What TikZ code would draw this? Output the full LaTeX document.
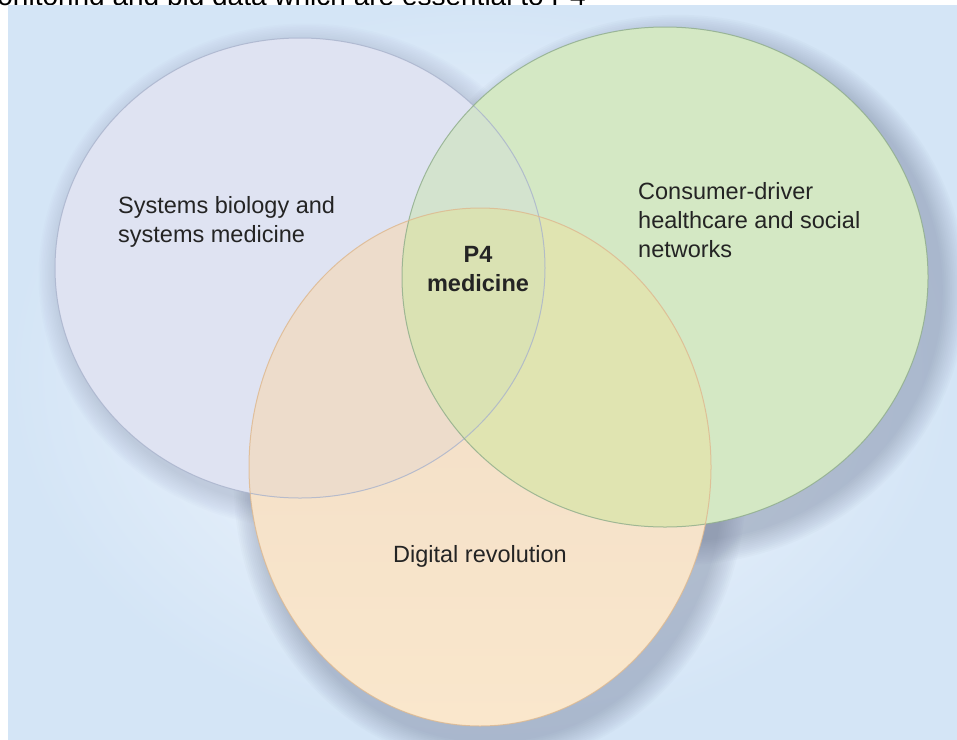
\documentclass[tikz,border=0pt]{standalone}
\usepackage{fontspec}
\setmainfont{Liberation Sans}
\usetikzlibrary{shapes.geometric}

\definecolor{panelout}{HTML}{D4E5F6}
\definecolor{panelin}{HTML}{F7F9FE}
\definecolor{shadowcol}{HTML}{6E7894}
\definecolor{bluefill}{HTML}{DFE3F2}
\definecolor{greenfill}{HTML}{D4E8C4}
\definecolor{orangetop}{HTML}{F0DCC6}
\definecolor{orangebot}{HTML}{FAE7CC}
\definecolor{bluegreen}{HTML}{D3E3CE}
\definecolor{blueorange}{HTML}{EDDCCB}
\definecolor{greenorange}{HTML}{E0E4B1}
\definecolor{allthree}{HTML}{DAE2B3}
\definecolor{blueedge}{HTML}{A9B3CC}
\definecolor{greenedge}{HTML}{8EAC8A}
\definecolor{orangeedge}{HTML}{DDB88F}
\definecolor{labeltext}{HTML}{242424}

% the three sets, as paths
\newcommand\sysbio{(300,268) ellipse [x radius=245, y radius=230]}
\newcommand\consumer{(665,277) ellipse [x radius=263, y radius=250]}
\newcommand\digital{(480,467) ellipse [x radius=231, y radius=259]}

\begin{document}
\begin{tikzpicture}[x=1pt, y=-1pt,
    setlabel/.style={text=labeltext, font=\fontsize{23.5}{29}\selectfont, inner sep=0pt},
    rim/.style={line width=1pt, draw opacity=0.8}]
    \useasboundingbox (0,0) rectangle (957,739);

    % clipped caption line above the panel
    \begin{scope}
        \clip (0,0) rectangle (957,5);
        \node[anchor=base east, font=\fontsize{28}{30}\selectfont, inner sep=0pt] (caption) at (586,5)
            {monitoring and big data which are essential to P4};
    \end{scope}

    % panel
    \shade[inner color=panelin, outer color=panelout] (8,5) rectangle (957,739);

    % soft shadows
    \foreach \i in {1,...,14} {
        \fill[shadowcol, opacity=0.02] (306,276) ellipse [x radius=245+1.6*\i, y radius=230+1.6*\i];
        \fill[shadowcol, opacity=0.03] (678,290) ellipse [x radius=263+1.8*\i, y radius=250+1.8*\i];
        \fill[shadowcol, opacity=0.03] (490,482) ellipse [x radius=231+1.8*\i, y radius=259+1.8*\i];
    }

    % sets
    \fill[bluefill] \sysbio;
    \fill[greenfill] \consumer;
    \shade[top color=orangetop, bottom color=orangebot] \digital;

    % overlaps
    \begin{scope}
        \clip \sysbio;
        \fill[bluegreen] \consumer;
        \fill[blueorange] \digital;
    \end{scope}
    \begin{scope}
        \clip \consumer;
        \fill[greenorange] \digital;
        \clip \digital;
        \fill[allthree] \sysbio;
    \end{scope}

    % rims
    \draw[rim, blueedge] \sysbio;
    \draw[rim, greenedge] \consumer;
    \draw[rim, orangeedge] \digital;

    % labels
    \node[setlabel, anchor=west, align=left] (bio) at (118,222) {Systems biology and\\systems medicine};
    \node[setlabel, anchor=west, align=left] (cons) at (638,220) {Consumer-driver\\healthcare and social\\networks};
    \node[setlabel] (dig) at (480,556) {Digital revolution};
    \node[setlabel, font=\bfseries\fontsize{23.5}{29}\selectfont, align=center] (p4) at (478,269) {P4\\medicine};
\end{tikzpicture}
\end{document}
